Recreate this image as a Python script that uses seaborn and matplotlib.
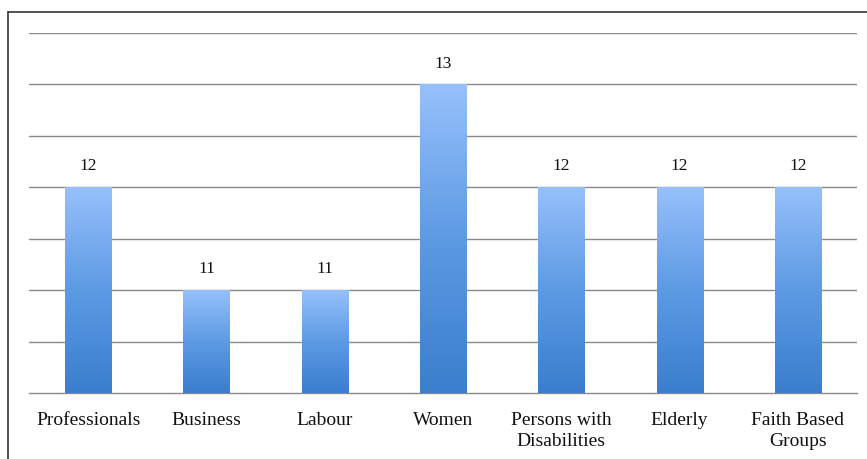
import numpy as np
import pandas as pd
import matplotlib
matplotlib.use("Agg")
import matplotlib.pyplot as plt
import seaborn as sns
from matplotlib.colors import LinearSegmentedColormap
from matplotlib.lines import Line2D

categories = ["Professionals", "Business", "Labour", "Women",
              "Persons with\nDisabilities", "Elderly", "Faith Based\nGroups"]
values = [12, 11, 11, 13, 12, 12, 12]

sns.set_style("white")
plt.rcParams['font.family'] = ['Liberation Serif', 'DejaVu Serif']

df = pd.DataFrame({"cat": categories, "val": values})

fig = plt.figure(figsize=(8.67, 4.59), dpi=100)
ax = fig.add_axes([29/867, 1 - 393/459, (857 - 29)/867, (393 - 33)/459])

sns.barplot(data=df, x="cat", y="val", ax=ax, width=0.39, color="#5b9be6",
            edgecolor="none", zorder=3)

ax.set_ylim(10, 13.5)
ax.set_xlim(-0.5, len(categories) - 0.5)

# gradient fill on bars
cmap = LinearSegmentedColormap.from_list("g", ["#3a7ecd", "#5d9ae4", "#96c0fb"])
grad = np.linspace(0, 1, 256).reshape(-1, 1)
for p in ax.patches:
    x0, y0 = p.get_x(), p.get_y()
    w, h = p.get_width(), p.get_height()
    top = y0 + h
    p.set_facecolor("none")
    im = ax.imshow(grad, extent=[x0, x0 + w, 10, top], origin="lower",
                   aspect="auto", cmap=cmap, zorder=3)
    im.set_clip_path(p)
    ax.annotate(f"{int(round(top))}", (x0 + w / 2, top), xytext=(0, 15),
                textcoords="offset points", ha="center", va="center",
                fontsize=12.5, color="#111111")

ax.set_xlim(-0.5, len(categories) - 0.5)
ax.set_ylim(10, 13.5)
ax.set_yticks(np.arange(10.5, 13.51, 0.5))
ax.yaxis.grid(True, color="#8a8a8a", linewidth=1.0, zorder=0)
ax.set_axisbelow(True)
ax.tick_params(axis="y", left=False, labelleft=False)

ax.set_xlabel("")
ax.set_ylabel("")
ax.set_xticks(range(len(categories)))
ax.set_xticklabels(categories, fontsize=14, color="#111111", linespacing=1.3)
ax.tick_params(axis="x", which="major", length=0, pad=14)
ax.set_xticks(np.arange(-0.5, len(categories), 1.0), minor=True)
ax.tick_params(axis="x", which="minor", length=4, width=1, color="#8a8a8a",
               direction="out")

for s in ["top", "right", "left"]:
    ax.spines[s].set_visible(False)
ax.spines["bottom"].set_color("#8a8a8a")
ax.spines["bottom"].set_linewidth(1.0)

# outer frame (left and top edges)
fig.add_artist(Line2D([8/867, 8/867], [0, 1 - 12/459], transform=fig.transFigure,
                      color="#333333", linewidth=1.2))
fig.add_artist(Line2D([8/867, 1], [1 - 12/459, 1 - 12/459], transform=fig.transFigure,
                      color="#333333", linewidth=1.2))

fig.savefig("out.png", dpi=100, facecolor="white")
